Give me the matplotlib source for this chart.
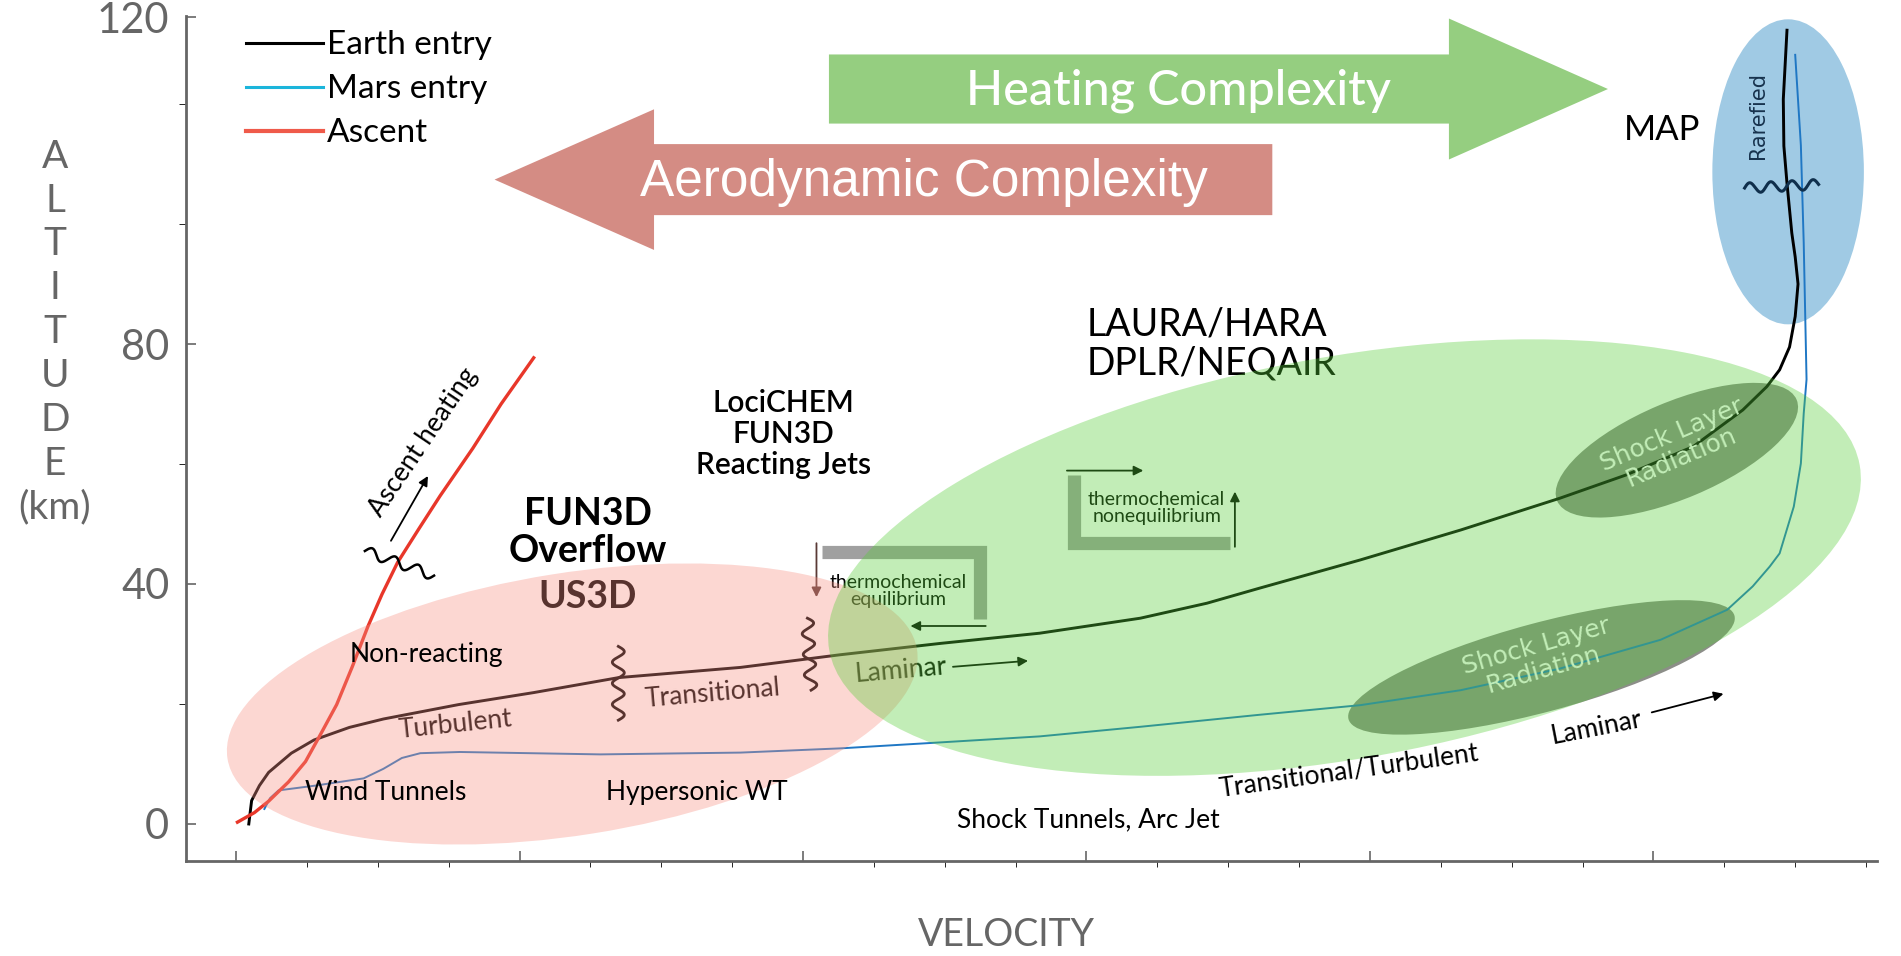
import numpy as np
import matplotlib
matplotlib.use('Agg')
import matplotlib.pyplot as plt
from matplotlib.patches import Ellipse, Polygon
from matplotlib.lines import Line2D
from matplotlib.transforms import Affine2D

plt.rcParams['font.family'] = ['Lato', 'DejaVu Sans']

# trajectories: velocity (schematic units) vs altitude (km, schematic axis)
earth_v = [0.09, 0.11, 0.165, 0.23, 0.39, 0.55, 0.80, 1.04, 1.57, 2.10, 2.70, 3.56, 4.26,
           4.97, 5.67, 6.38, 6.85, 7.22, 7.93, 8.64, 9.34, 9.81, 10.28, 10.63, 10.80,
           10.89, 10.96, 11.00, 11.02, 11.00, 10.976, 10.942, 10.92, 10.916, 10.942]
earth_h = [0.0, 3.9, 6.4, 8.6, 11.8, 14.0, 16.1, 17.5, 19.9, 21.9, 24.4, 26.1, 28.2,
           30.1, 31.8, 34.3, 36.8, 39.3, 44.0, 49.0, 54.3, 58.2, 62.9, 69.0, 72.9,
           75.7, 79.5, 84.6, 90.0, 94.5, 98.5, 106.8, 113.0, 120.8, 132.3]

mars_v = [0.20, 0.24, 0.30, 0.56, 0.90, 1.04, 1.17, 1.30, 1.58, 2.57, 3.56, 4.26, 4.97,
          5.67, 6.38, 7.22, 7.93, 8.64, 9.34, 10.05, 10.52, 10.70, 10.82, 10.89, 10.99,
          11.04, 11.06, 11.08, 11.06, 11.04, 11.00]
mars_h = [2.5, 4.3, 5.6, 6.4, 7.6, 9.2, 11.0, 11.8, 12.0, 11.6, 11.9, 12.6, 13.6,
          14.6, 16.2, 18.2, 19.8, 22.3, 25.9, 30.7, 35.7, 39.6, 42.9, 45.1, 52.9,
          60.1, 68.4, 74.1, 96.9, 113.1, 128.2]

ascent_v = [0.01, 0.13, 0.23, 0.37, 0.49, 0.60, 0.71, 0.82, 0.93, 1.03, 1.14, 1.29,
            1.44, 1.67, 1.87, 2.10]
ascent_h = [0.3, 1.9, 3.8, 7.0, 10.4, 15.1, 19.9, 26.2, 32.9, 38.3, 43.6, 49.2,
            54.7, 62.6, 70.0, 77.7]

# regions: (v centre, h centre, width, height [velocity units], angle, colour, alpha)
region_pink = (2.372, 20.0, 4.925, 1.85, 9.0, '#F79083', 0.36)
region_green = (7.82, 44.4, 7.386, 2.833, 10.2, '#56CE38', 0.36)
region_map = (10.95, 108.7, 1.069, 2.152, 0.0, '#A0CAE4', 1.0)
region_rad_hi = (10.165, 62.3, 1.834, 0.681, 22.9, '#8C8E88', 1.0)
region_rad_lo = (9.21, 26.1, 2.819, 0.628, 15.0, '#8C8E88', 1.0)

# block arrows: tail, head base, tip, centre h, body half, head half
heat_arrow = (4.183, 8.557, 9.679, 122.5, 5.76, 11.75)
aero_arrow = (7.311, 2.949, 1.824, 107.4, 5.92, 11.72)

y_ticks = [0, 40, 80, 134.5]
y_ticklabels = ['0', '40', '80', '120']
y_minor = [20, 60, 100, 120]

GREY = '#666666'

fig = plt.figure(figsize=(19.01, 9.56), dpi=100)
ax = fig.add_axes([0.09784, 0.09937, 0.88953, 0.88389])
ax.set_xlim(-0.353, 11.577)
ax.set_ylim(-6.17, 134.67)

# ratio to draw round shapes in velocity units
p = ax.transData.transform([(0, 0), (1, 1)])
k = (p[1, 0] - p[0, 0]) / (p[1, 1] - p[0, 1])
iso = Affine2D().scale(1, k) + ax.transData


def region(spec, z):
    v, h, w, hh, ang, col, a = spec
    e = Ellipse((v, h / k), w, hh, angle=ang, transform=iso,
                facecolor=col, alpha=a, edgecolor='none', zorder=z)
    ax.add_patch(e)


def block_arrow(spec, col, z):
    tail, base, tip, yc, b, hd = spec
    verts = [(tail, yc - b), (base, yc - b), (base, yc - hd), (tip, yc),
             (base, yc + hd), (base, yc + b), (tail, yc + b)]
    ax.add_patch(Polygon(verts, closed=True, facecolor=col, edgecolor='none', zorder=z))


def squiggle(p0, p1, waves, amp, **kw):
    d0, d1 = ax.transData.transform([p0, p1])
    vec = d1 - d0
    n = np.array([-vec[1], vec[0]]) / np.hypot(*vec)
    t = np.linspace(0, 1, 200)
    pts = d0 + np.outer(t, vec) + np.outer(amp * np.sin(2 * np.pi * waves * t), n)
    dat = ax.transData.inverted().transform(pts)
    ax.plot(dat[:, 0], dat[:, 1], **kw)


def arrow(p0, p1, col, z, lw=1.3, ms=14):
    ax.annotate('', xy=p1, xytext=p0, zorder=z,
                arrowprops=dict(arrowstyle='-|>', color=col, lw=lw, mutation_scale=ms,
                                shrinkA=0, shrinkB=0))


# --- bottom layer ---
region(region_map, 1)
region(region_rad_hi, 1)
region(region_rad_lo, 1)
ax.plot([4.134, 5.250, 5.250], [45.3, 45.3, 34.1], color='#A0A0A0', lw=9.5,
        solid_joinstyle='miter', solid_capstyle='butt', zorder=1)
ax.plot([5.910, 5.910, 7.016], [58.1, 46.9, 46.9], color='#A0A0A0', lw=9.5,
        solid_joinstyle='miter', solid_capstyle='butt', zorder=1)

ax.plot(earth_v, earth_h, color='black', lw=2.1, zorder=3)
ax.plot(mars_v, mars_h, color='#1F77C4', lw=1.4, zorder=3)
ax.plot(ascent_v, ascent_h, color='#E8372A', lw=2.4, zorder=3)

squiggle((2.697, 29.6), (2.697, 17.3), 3.5, 6, color='black', lw=2.0, zorder=3)
squiggle((4.031, 34.3), (4.057, 22.3), 3.5, 6, color='black', lw=2.0, zorder=3)
squiggle((0.909, 45.5), (1.397, 41.4), 3, 5, color='black', lw=1.8, zorder=4)
squiggle((10.643, 106.0), (11.165, 106.6), 3.5, 5, color='#0F2F4C', lw=2.2, zorder=4)

arrow((4.095, 46.8), (4.095, 37.8), '#5A3A36', 3)
arrow((5.289, 33.0), (4.758, 33.0), 'black', 3)
arrow((5.862, 58.9), (6.401, 58.9), 'black', 3)
arrow((7.047, 46.2), (7.047, 55.4), 'black', 3)
arrow((5.058, 26.2), (5.588, 27.2), 'black', 3)
arrow((9.988, 18.6), (10.494, 21.7), 'black', 5)
arrow((1.093, 47.2), (1.354, 58.0), 'black', 5)

# text underneath the translucent regions
ax.text(1.551, 16.5, 'Turbulent', fontsize=19, rotation=6, ha='center', va='center', zorder=3)
ax.text(3.364, 21.7, 'Transitional', fontsize=19, rotation=5, ha='center', va='center', zorder=3)
ax.text(2.483, 37.9, 'US3D', fontsize=27, fontweight='bold', ha='center', va='center', zorder=3)
ax.text(4.69, 25.5, 'Laminar', fontsize=19, rotation=5, ha='center', va='center', zorder=3)
ax.text(4.673, 38.9, 'thermochemical\nequilibrium', fontsize=14, ha='center', va='center',
        linespacing=1.0, zorder=3)
ax.text(6.495, 52.7, 'thermochemical\nnonequilibrium', fontsize=14, ha='center', va='center',
        linespacing=1.0, zorder=3)
ax.text(5.999, 80.0, 'LAURA/HARA\nDPLR/NEQAIR', fontsize=27, ha='left', va='center',
        linespacing=1.1, zorder=3)
ax.text(10.164, 62.96, 'Shock Layer\nRadiation', fontsize=18, family='DejaVu Sans',
        color='white', rotation=23, ha='center', va='center', rotation_mode='anchor',
        linespacing=1.0, zorder=3)
ax.text(9.197, 27.6, 'Shock Layer\nRadiation', fontsize=18, family='DejaVu Sans',
        color='white', rotation=16, ha='center', va='center', rotation_mode='anchor',
        linespacing=1.0, zorder=3)

region(region_pink, 4)
region(region_green, 4)

# --- top layer ---
ax.text(1.346, 28.2, 'Non-reacting', fontsize=19, ha='center', va='center', zorder=6)
ax.text(1.055, 5.2, 'Wind Tunnels', fontsize=19, ha='center', va='center', zorder=6)
ax.text(3.253, 5.2, 'Hypersonic WT', fontsize=19, ha='center', va='center', zorder=6)
ax.text(6.016, 0.7, 'Shock Tunnels, Arc Jet', fontsize=19, ha='center', va='center', zorder=6)
ax.text(7.854, 8.8, 'Transitional/Turbulent', fontsize=19, rotation=8, ha='center',
        va='center', zorder=6)
ax.text(9.600, 16.1, 'Laminar', fontsize=19, rotation=11, ha='center', va='center', zorder=6)
ax.text(1.320, 63.6, 'Ascent heating', fontsize=19, rotation=56, ha='center', va='center',
        rotation_mode='anchor', zorder=6)
ax.text(2.483, 48.6, 'FUN3D\nOverflow', fontsize=27, fontweight='bold', ha='center',
        va='center', linespacing=1.1, zorder=6)
ax.text(3.860, 65.0, 'LociCHEM\nFUN3D\nReacting Jets', fontsize=21.5, fontweight='semibold',
        ha='center', va='center', linespacing=1.15, zorder=6)
ax.text(10.061, 115.7, 'MAP', fontsize=25, ha='center', va='center', zorder=6)
ax.text(10.737, 118.1, 'Rarefied', fontsize=15, family='DejaVu Sans', color='#17324D',
        rotation=90, ha='center', va='center', zorder=6)

block_arrow(heat_arrow, '#95CE80', 6)
block_arrow(aero_arrow, '#D48C84', 6)
ax.text(6.648, 122.2, 'Heating Complexity', fontsize=35, fontweight='medium', color='white',
        ha='center', va='center', zorder=7)
ax.text(4.852, 107.0, 'Aerodynamic Complexity', fontsize=37, family='Liberation Sans',
        color='white', ha='center', va='center', zorder=7)

handles = [Line2D([], [], color='black', lw=2.2),
           Line2D([], [], color='#1BB5DB', lw=2.2),
           Line2D([], [], color='#EF5A4A', lw=3)]
ax.legend(handles, ['Earth entry', 'Mars entry', 'Ascent'], loc='upper left',
          bbox_to_anchor=(0.0355, 0.983), frameon=False, fontsize=24, handlelength=2.3,
          handletextpad=0.12, labelspacing=0.42, borderpad=0, borderaxespad=0)

# axes styling
for s in ['top', 'right']:
    ax.spines[s].set_visible(False)
for s in ['left', 'bottom']:
    ax.spines[s].set_color(GREY)
    ax.spines[s].set_linewidth(2)
ax.set_xticks(np.arange(0, 11.6, 2))
ax.set_xticks(np.arange(0, 11.6, 0.5), minor=True)
ax.set_xticklabels([])
ax.set_yticks(y_ticks, y_ticklabels)
ax.set_yticks(y_minor, minor=True)
ax.tick_params(direction='in', colors=GREY, width=1.2)
ax.tick_params(axis='x', which='major', length=7)
ax.tick_params(axis='x', which='minor', length=4)
ax.tick_params(axis='y', which='major', length=7, pad=12, labelsize=30)
ax.tick_params(axis='y', which='minor', length=5)

ax.set_ylabel('A\nL\nT\nI\nT\nU\nD\nE\n(km)', rotation=0, fontsize=28, color=GREY,
              linespacing=1.27, ha='center', va='center')
ax.yaxis.set_label_coords(-0.0775, 0.626)
ax.set_xlabel('VELOCITY', fontsize=27, color=GREY, va='center')
ax.xaxis.set_label_coords(0.485, -0.087)

fig.savefig('out.png', dpi=100)
